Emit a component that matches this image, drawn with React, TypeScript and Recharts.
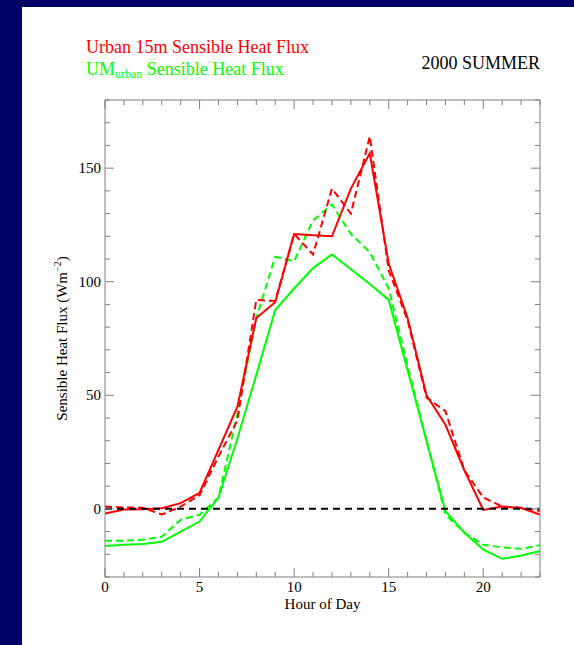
import React from 'react'
import { LineChart, Line, XAxis, YAxis, ReferenceLine } from 'recharts'

// hourly mean sensible heat flux, summer 2000 (W m-2)
const hours = [0, 1, 2, 3, 4, 5, 6, 7, 8, 9, 10, 11, 12, 13, 14, 15, 16, 17, 18, 19, 20, 21, 22, 23]
const urban15m = [-2, -0.3, -0.2, 0.3, 2.5, 7, 26, 45, 84, 91, 121, 120.5, 120, 141, 156.5, 108, 84, 50, 37, 17, -0.5, 1, 0.4, -2.5]
const urban15mDashed = [1, 0.6, 0.5, -2.5, 1, 6, 23, 39, 92, 91.5, 121, 112, 141, 130, 164, 105, 83, 49, 43, 17, 5, 1, 0.5, -1]
const umUrban = [-16.3, -15.8, -15.5, -14.5, -10, -5.6, 5, 31, 59, 87.5, 97, 106, 112, 105.5, 99, 92, 61, 30, -1, -10.5, -18, -22, -20.5, -18.5]
const umUrbanDashed = [-14, -14, -13.6, -12.3, -4.8, -2.6, 5, 42, 84, 111, 109, 127, 134, 121, 113, 97, 63, 30, -2.5, -10.5, -15.8, -17, -17.6, -16]

const hourLabels = [0, 5, 10, 15, 20]
const fluxTicks = [-30, -20, -10, 0, 10, 20, 30, 40, 50, 60, 70, 80, 90, 100, 110, 120, 130, 140, 150, 160, 170, 180]
const fluxLabels = [0, 50, 100, 150]

const data = hours.map((hour, i) => ({
  hour,
  urban15m: urban15m[i],
  urban15mDashed: urban15mDashed[i],
  umUrban: umUrban[i],
  umUrbanDashed: umUrbanDashed[i],
}))

const AXIS = '#808080'
const FONT = '"Liberation Serif", "Times New Roman", serif'
const RED = '#ff0000'
const GREEN = '#00ff00'

const BottomTick = ({ x, y, payload }: any) => {
  const major = hourLabels.includes(payload.value)
  return (
    <g>
      <line x1={x} x2={x} y1={y} y2={y - (major ? 9 : 5)} stroke={AXIS} />
      {major && (
        <text x={x} y={y + 15} textAnchor="middle" fontSize={15} fontFamily={FONT} fill="#000">
          {payload.value}
        </text>
      )}
    </g>
  )
}

const TopTick = ({ x, y, payload }: any) => {
  const major = hourLabels.includes(payload.value)
  return <line x1={x} x2={x} y1={y} y2={y + (major ? 9 : 5)} stroke={AXIS} />
}

const LeftTick = ({ x, y, payload }: any) => {
  const major = fluxLabels.includes(payload.value)
  return (
    <g>
      <line x1={x} x2={x + (major ? 9 : 5)} y1={y} y2={y} stroke={AXIS} />
      {major && (
        <text x={x - 4} y={y + 5} textAnchor="end" fontSize={15} fontFamily={FONT} fill="#000">
          {payload.value}
        </text>
      )}
    </g>
  )
}

const RightTick = ({ x, y, payload }: any) => {
  const major = fluxLabels.includes(payload.value)
  return <line x1={x} x2={x - (major ? 9 : 5)} y1={y} y2={y} stroke={AXIS} />
}

export default function App() {
  return (
    <div style={{ position: 'fixed', left: 0, top: 0, width: 574, height: 645, background: '#000066' }}>
      <div style={{ position: 'absolute', left: 22, top: 7, right: 0, bottom: 0, background: '#fff' }} />
      <div style={{ position: 'absolute', left: 0, top: 0 }}>
        <LineChart width={574} height={645} data={data} margin={{ top: 90, right: 24, bottom: 38, left: 65 }}>
          <XAxis
            xAxisId="b"
            dataKey="hour"
            type="number"
            domain={[0, 23]}
            ticks={hours}
            interval={0}
            allowDataOverflow
            height={30}
            tickSize={0}
            tickMargin={0}
            tickLine={false}
            axisLine={{ stroke: AXIS }}
            tick={BottomTick}
          />
          <XAxis
            xAxisId="t"
            orientation="top"
            dataKey="hour"
            type="number"
            domain={[0, 23]}
            ticks={hours}
            interval={0}
            allowDataOverflow
            height={10}
            tickSize={0}
            tickMargin={0}
            tickLine={false}
            axisLine={{ stroke: AXIS }}
            tick={TopTick}
          />
          <YAxis
            yAxisId="l"
            type="number"
            domain={[-30, 180]}
            ticks={fluxTicks}
            interval={0}
            allowDataOverflow
            width={40}
            tickSize={0}
            tickMargin={0}
            tickLine={false}
            axisLine={{ stroke: AXIS }}
            tick={LeftTick}
          />
          <YAxis
            yAxisId="r"
            orientation="right"
            type="number"
            domain={[-30, 180]}
            ticks={fluxTicks}
            interval={0}
            allowDataOverflow
            width={10}
            tickSize={0}
            tickMargin={0}
            tickLine={false}
            axisLine={{ stroke: AXIS }}
            tick={RightTick}
          />
          <Line xAxisId="b" yAxisId="l" type="linear" dataKey="umUrban" stroke={GREEN} strokeWidth={2} dot={false} isAnimationActive={false} />
          <Line xAxisId="b" yAxisId="l" type="linear" dataKey="umUrbanDashed" stroke={GREEN} strokeWidth={2} strokeDasharray="7 4" dot={false} isAnimationActive={false} />
          <Line xAxisId="b" yAxisId="l" type="linear" dataKey="urban15mDashed" stroke={RED} strokeWidth={2} strokeDasharray="7 4" dot={false} isAnimationActive={false} />
          <Line xAxisId="b" yAxisId="l" type="linear" dataKey="urban15m" stroke={RED} strokeWidth={2} dot={false} isAnimationActive={false} />
          <ReferenceLine xAxisId="b" yAxisId="l" y={0} stroke="#000" strokeWidth={2} strokeDasharray="7 5" />
        </LineChart>
      </div>
      <svg width={574} height={645} style={{ position: 'absolute', left: 0, top: 0, pointerEvents: 'none' }} fontFamily={FONT}>
        <text x={86} y={53} fontSize={18} fill={RED}>Urban 15m Sensible Heat Flux</text>
        <text x={86} y={75} fontSize={18} fill={GREEN}>
          UM<tspan fontSize={12} dy={3}>urban</tspan>
          <tspan dy={-3}> Sensible Heat Flux</tspan>
        </text>
        <text x={540} y={69} fontSize={18} textAnchor="end" fill="#000">2000 SUMMER</text>
        <text x={322.5} y={609} fontSize={15} textAnchor="middle" fill="#000">Hour of Day</text>
        <text x={67} y={338.5} fontSize={15} textAnchor="middle" fill="#000" transform="rotate(-90 67 338.5)">
          Sensible Heat Flux (Wm<tspan fontSize={10} dy={-6}>−2</tspan>
          <tspan dy={6}>)</tspan>
        </text>
      </svg>
    </div>
  )
}
